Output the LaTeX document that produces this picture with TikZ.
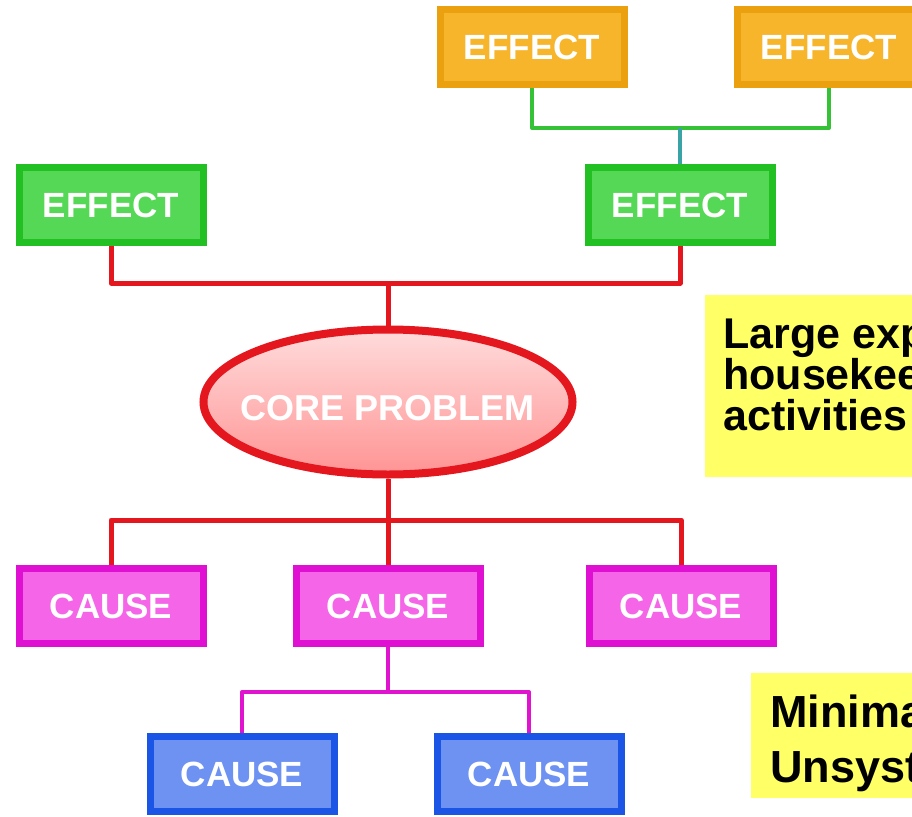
\documentclass[tikz,border=0pt]{standalone}
\usepackage{fontspec}
\setmainfont{Liberation Sans}
\usetikzlibrary{shapes.geometric}
\definecolor{orfill}{HTML}{F7B52C}
\definecolor{ordraw}{HTML}{EBA010}
\definecolor{grfill}{HTML}{55D855}
\definecolor{grdraw}{HTML}{22C022}
\definecolor{pkfill}{HTML}{F565E8}
\definecolor{pkdraw}{HTML}{E010D2}
\definecolor{blfill}{HTML}{6E92F2}
\definecolor{bldraw}{HTML}{1A55E6}
\definecolor{redln}{HTML}{E4161E}
\definecolor{greenln}{HTML}{36C236}
\definecolor{tealln}{HTML}{3AA3A6}
\definecolor{pinkln}{HTML}{E014CF}
\definecolor{notebg}{HTML}{FFFF66}
\tikzset{
  box/.style={rectangle, line width=7pt, minimum width=184pt, minimum height=75pt, inner sep=0pt,
    text=white, font=\fontsize{35}{40}\selectfont\bfseries},
  effo/.style={box, draw=ordraw, fill=orfill},
  effg/.style={box, draw=grdraw, fill=grfill},
  causep/.style={box, draw=pkdraw, fill=pkfill},
  causeb/.style={box, draw=bldraw, fill=blfill},
  core/.style={ellipse, draw=redln, line width=8pt, minimum width=369pt, minimum height=145pt,
    inner sep=0pt, text height=36pt, text depth=0pt,
    top color=red!14, middle color=red!50, bottom color=red!42, text=white,
    font=\fontsize{36}{40}\selectfont\bfseries},
  link/.style={line width=4pt, line join=round},
  notebox/.style={rectangle, fill=notebg, inner sep=0pt, anchor=north west},
  notetxt/.style={align=left, inner sep=0pt, anchor=north west, font=\bfseries},
}
\begin{document}
\begin{tikzpicture}[x=1pt,y=-1pt]
  \useasboundingbox (0,0) rectangle (912,816);
  \clip (0,0) rectangle (912,816);
  \node[effo] (eo1) at (532,47) {EFFECT};
  \node[effo] (eo2) at (829,47) {EFFECT};
  \node[effg] (eg1) at (111,205) {EFFECT};
  \node[effg] (eg2) at (680,205) {EFFECT};
  \node[core] (core) at (388,402) {\makebox[0pt]{CORE PROBLEM}};
  \foreach \n/\x in {cp1/111,cp2/388,cp3/681}
    \node[causep] (\n) at (\x,606) {CAUSE};
  \foreach \n/\x in {cb1/242,cb2/529}
    \node[causeb] (\n) at (\x,774) {CAUSE};
  \coordinate (gj) at (680,128);
  \coordinate (rj1) at (388,283);
  \coordinate (rj2) at (388,520);
  \coordinate (pj) at (388,692);
  \draw[link, greenln] (eo1.south) |- (gj) -| (eo2.south);
  \draw[link, tealln] (gj) -- (eg2.north);
  \draw[link, redln, line width=5pt] (eg1.south) |- (rj1) -| (eg2.south);
  \draw[link, redln, line width=5pt] (rj1) -- (core.north);
  \draw[link, redln, line width=5pt] (core.south) -- (cp2.north);
  \draw[link, redln, line width=5pt] (cp1.north) |- (rj2) -| (cp3.north);
  \draw[link, pinkln] (cp2.south) -- (pj);
  \draw[link, pinkln] (cb1.north) |- (pj) -| (cb2.north);
  \node[notebox, minimum width=260pt, minimum height=182pt] (noteA) at (705,295) {};
  \node[notetxt, font=\fontsize{43}{41}\selectfont\bfseries] (noteAtxt) at (723,319)
    {Large expenses on\\housekeeping\\activities};
  \node[notebox, minimum width=220pt, minimum height=125pt] (noteB) at (751,673) {};
  \node[notetxt, font=\fontsize{45}{55}\selectfont\bfseries] (noteBtxt) at (770,695)
    {Minimal\\Unsystematic};
\end{tikzpicture}
\end{document}
